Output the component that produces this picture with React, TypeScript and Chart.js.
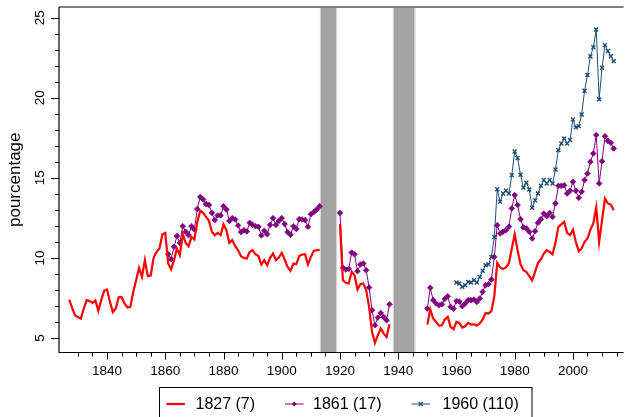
import { useEffect, useRef } from "react";
import { Chart, registerables } from "chart.js";

Chart.register(...registerables);

// ---- data ----
const xRange = [1823.5, 2017.4];
const yRange = [4.09, 25.67];

const redPreStart = 1827;
const redPre = [
  7.4, 6.9, 6.4, 6.31, 6.21, 6.84, 7.36, 7.31, 7.19, 7.34,
  6.69, 7.36, 7.94, 8.02, 7.25, 6.61, 6.84, 7.54, 7.56, 7.15,
  6.9, 6.94, 7.88, 8.61, 9.38, 8.81, 9.86, 8.86, 8.9, 10.02,
  10.38, 10.59, 11.46, 11.56,
  9.65, 9.29, 9.86, 10.59, 10.17, 11.48, 10.94, 10.73, 11.31, 11.15,
  12.25, 12.94, 12.81, 12.56, 12.31, 11.63, 11.42, 11.56, 11.42, 12.09,
  11.73, 10.94, 11.11, 10.73, 10.48, 10.11, 10.0, 9.96, 10.38, 10.48,
  10.21, 10.11, 9.59, 9.86, 9.54, 10.0, 10.27, 9.86, 10.02, 10.31,
  9.9, 9.44, 9.19, 9.65, 9.6, 10.11, 10.21, 10.23, 9.59, 10.06,
  10.44, 10.48, 10.5,
];
const interStart = 1920;
const redInter = [
  12.1, 8.6, 8.44, 8.4, 9.13, 8.92, 8.02, 8.36, 8.4, 7.98,
  6.94, 5.38, 4.69, 5.17, 5.59, 5.27, 5.06, 5.86,
];
const postStart = 1950;
const redPost = [
  5.83, 6.79, 6.21, 6.0, 5.77, 5.79, 6.15, 6.31, 5.69, 5.54,
  6.0, 5.94, 5.65, 5.73, 5.94, 5.83, 5.85, 5.77, 5.9, 6.15,
  6.56, 6.52, 6.67, 7.6, 9.69, 9.4, 9.31, 9.4, 9.65, 10.59,
  11.48, 10.48, 9.6, 9.23, 9.13, 8.86, 8.6, 9.13, 9.69, 9.9,
  10.27, 10.48, 10.38, 10.23, 10.94, 11.94, 12.09, 12.25, 11.56, 11.42,
  11.77, 11.0, 10.42, 10.59, 11.0, 11.21, 11.77, 12.15, 13.15, 11.0,
  12.36, 13.71, 13.4, 13.33, 12.98,
];

const purplePreStart = 1861;
const purplePre = [
  10.23, 9.92, 10.69, 11.36, 10.94, 11.98, 11.63, 11.42, 11.98, 11.77,
  13.06, 13.81, 13.65, 13.36, 13.31, 12.81, 12.36, 12.65, 12.65, 13.23,
  13.02, 12.31, 12.48, 12.4, 12.02, 11.61, 11.73, 11.65, 12.19, 12.06,
  11.98, 11.94, 11.4, 11.69, 11.48, 12.06, 12.48, 12.06, 12.31, 12.48,
  12.11, 11.61, 11.44, 11.98, 11.81, 12.42, 12.4, 12.36, 11.94, 12.73,
  12.86, 13.02, 13.23,
];
const purpleInter = [
  12.81, 9.38, 9.27, 9.31, 10.33, 10.23, 9.17, 9.59, 9.65, 9.23,
  8.15, 6.73, 5.79, 6.27, 6.56, 6.31, 6.1, 7.1,
];
const purplePost = [
  6.83, 8.13, 7.36, 7.15, 7.04, 7.1, 7.44, 7.6, 6.94, 6.83,
  7.31, 7.27, 6.98, 7.15, 7.36, 7.36, 7.4, 7.25, 7.46, 7.88,
  8.29, 8.36, 8.65, 10.06, 12.04, 11.52, 11.63, 11.73, 11.94, 13.09,
  13.92, 13.3, 12.42, 11.9, 11.84, 11.63, 11.21, 11.67, 12.19, 12.42,
  12.77, 12.6, 12.81, 12.56, 13.4, 14.5, 14.5, 14.54, 14.02, 14.19,
  14.75, 14.19, 13.75, 14.13, 14.86, 15.27, 16.0, 16.52, 17.67, 14.65,
  16.04, 17.6, 17.31, 17.19, 16.83,
];

const bluePostStart = 1960;
const bluePost = [
  8.46, 8.4, 8.19, 8.29, 8.5, 8.46, 8.6, 8.46, 8.81, 9.19,
  9.54, 9.6, 10.06, 11.31, 14.29, 13.5, 14.02, 14.19, 14.02, 15.17,
  16.65, 16.24, 15.19, 14.39, 14.69, 14.27, 13.13, 13.6, 14.02, 14.5,
  14.86, 14.65, 14.86, 14.65, 15.52, 16.73, 17.15, 17.46, 17.15, 17.36,
  18.65, 18.15, 18.23, 18.96, 20.44, 21.42, 22.6, 23.15, 24.27, 19.9,
  21.88, 23.29, 22.92, 22.6, 22.29,
];

const warPeriods = [
  [1913.4, 1918.7],
  [1938.5, 1945.6],
];
const seriesLabels = ["1827 (7)", "1861 (17)", "1960 (110)"];
const seriesColors = ["#ff0000", "#800080", "#1f4e79"];
const xTickLabels = [1840, 1860, 1880, 1900, 1920, 1940, 1960, 1980, 2000];
const xMinorTicks = [1830, 2015];
const yTickLabels = [5, 10, 15, 20, 25];
const yMinorRange = [5, 25];
const yTitle = "pourcentage";

type Pt = { x: number; y: number | null };
function seg(start: number, vals: number[]): Pt[] {
  return vals.map((v, i) => ({ x: start + i, y: v }));
}
function joinSegs(...segs: Pt[][]): Pt[] {
  const out: Pt[] = [];
  segs.forEach((s, i) => {
    if (i > 0 && s.length) out.push({ x: s[0].x - 0.5, y: null });
    out.push(...s);
  });
  return out;
}

const FONT = '"Liberation Sans", Arial, Helvetica, sans-serif';

const rAxesPlugin = {
  id: "rAxes",
  beforeDatasetsDraw(chart: any) {
    const { ctx, chartArea, scales } = chart;
    const x = scales.x;
    ctx.save();
    for (const [a, b] of warPeriods) {
      const x0 = x.getPixelForValue(a);
      const x1 = x.getPixelForValue(b);
      ctx.fillStyle = "#a3a3a3";
      ctx.fillRect(x0, chartArea.top, x1 - x0, chartArea.bottom - chartArea.top);
      ctx.strokeStyle = "#cfcfcf";
      ctx.lineWidth = 1;
      ctx.beginPath();
      ctx.moveTo(x0 - 0.5, chartArea.top);
      ctx.lineTo(x0 - 0.5, chartArea.bottom);
      ctx.moveTo(x1 + 0.5, chartArea.top);
      ctx.lineTo(x1 + 0.5, chartArea.bottom);
      ctx.stroke();
    }
    ctx.restore();
  },
  afterDraw(chart: any) {
    const { ctx, chartArea, scales } = chart;
    const { left, right, top, bottom } = chartArea;
    const x = scales.x;
    const y = scales.y;
    ctx.save();
    // top grey line
    ctx.strokeStyle = "#808080";
    ctx.lineWidth = 2;
    ctx.beginPath();
    ctx.moveTo(left, top);
    ctx.lineTo(right, top);
    ctx.stroke();

    // axes lines
    ctx.strokeStyle = "#000";
    ctx.lineWidth = 1.2;
    ctx.beginPath();
    ctx.moveTo(left, top);
    ctx.lineTo(left, bottom);
    ctx.lineTo(right, bottom);
    ctx.stroke();

    // x ticks
    ctx.lineWidth = 1;
    ctx.beginPath();
    for (let yr = xMinorTicks[0]; yr <= xMinorTicks[1]; yr += 5) {
      const px = Math.round(x.getPixelForValue(yr)) + 0.5;
      const len = yr % 20 === 0 ? 7 : 4;
      ctx.moveTo(px, bottom);
      ctx.lineTo(px, bottom + len);
    }
    // y ticks
    for (let v = yMinorRange[0]; v <= yMinorRange[1]; v += 1) {
      const py = Math.round(y.getPixelForValue(v)) + 0.5;
      const len = v % 5 === 0 ? 8 : 4;
      ctx.moveTo(left, py);
      ctx.lineTo(left - len, py);
    }
    ctx.stroke();

    // x labels
    ctx.fillStyle = "#000";
    ctx.font = `13.5px ${FONT}`;
    ctx.textAlign = "center";
    ctx.textBaseline = "middle";
    for (const yr of xTickLabels) {
      ctx.fillText(String(yr), x.getPixelForValue(yr), 371);
    }
    // y labels (rotated)
    for (const v of yTickLabels) {
      ctx.save();
      ctx.translate(40, y.getPixelForValue(v));
      ctx.rotate(-Math.PI / 2);
      ctx.fillText(String(v), 0, 0);
      ctx.restore();
    }
    // y title
    ctx.save();
    ctx.font = `17px ${FONT}`;
    ctx.translate(15, (top + bottom) / 2);
    ctx.rotate(-Math.PI / 2);
    ctx.fillText(yTitle, 0, 0);
    ctx.restore();

    // legend
    ctx.strokeStyle = "#000";
    ctx.lineWidth = 1;
    ctx.strokeRect(159.5, 387.5, 372.5, 45);
    const items = [
      { lx: 166.5, tx: 195.5 },
      { lx: 285, tx: 313 },
      { lx: 411.5, tx: 442.5 },
    ];
    const ly = 404;
    ctx.font = `16px ${FONT}`;
    ctx.textAlign = "left";
    items.forEach((it, i) => {
      ctx.strokeStyle = seriesColors[i];
      ctx.lineWidth = i === 0 ? 2.2 : 1;
      ctx.beginPath();
      ctx.moveTo(it.lx, ly);
      ctx.lineTo(it.lx + 18.5, ly);
      ctx.stroke();
      const cx = it.lx + 9.25;
      if (i === 1) {
        ctx.fillStyle = seriesColors[i];
        ctx.beginPath();
        ctx.moveTo(cx, ly - 2.5);
        ctx.lineTo(cx + 2.5, ly);
        ctx.lineTo(cx, ly + 2.5);
        ctx.lineTo(cx - 2.5, ly);
        ctx.closePath();
        ctx.fill();
      } else if (i === 2) {
        ctx.lineWidth = 1.3;
        ctx.beginPath();
        ctx.moveTo(cx - 2, ly - 2);
        ctx.lineTo(cx + 2, ly + 2);
        ctx.moveTo(cx + 2, ly - 2);
        ctx.lineTo(cx - 2, ly + 2);
        ctx.stroke();
      }
      ctx.fillStyle = "#000";
      ctx.fillText(seriesLabels[i], it.tx, ly + 1);
    });
    ctx.restore();
  },
};

export default function App() {
  const ref = useRef<HTMLCanvasElement | null>(null);
  useEffect(() => {
    if (!ref.current) return;
    const chart = new Chart(ref.current, {
      type: "line",
      data: {
        datasets: [
          {
            label: seriesLabels[0],
            data: joinSegs(seg(redPreStart, redPre), seg(interStart, redInter), seg(postStart, redPost)) as any,
            borderColor: seriesColors[0],
            borderWidth: 2.2,
            pointRadius: 0,
            tension: 0,
            spanGaps: false,
          },
          {
            label: seriesLabels[1],
            data: joinSegs(seg(purplePreStart, purplePre), seg(interStart, purpleInter), seg(postStart, purplePost)) as any,
            borderColor: seriesColors[1],
            borderWidth: 1,
            pointStyle: "rectRot",
            pointRadius: 2.8,
            pointBackgroundColor: seriesColors[1],
            pointBorderColor: seriesColors[1],
            pointBorderWidth: 0.8,
            tension: 0,
            spanGaps: false,
          },
          {
            label: seriesLabels[2],
            data: seg(bluePostStart, bluePost) as any,
            borderColor: seriesColors[2],
            borderWidth: 1,
            pointStyle: "crossRot",
            pointRadius: 2.8,
            pointBorderColor: seriesColors[2],
            pointBorderWidth: 1.4,
            tension: 0,
            spanGaps: false,
          },
        ],
      },
      options: {
        responsive: false,
        animation: false,
        events: [],
        layout: { padding: { left: 59, top: 7, right: 0, bottom: 64.5 } },
        scales: {
          x: { type: "linear", min: xRange[0], max: xRange[1], display: false },
          y: { type: "linear", min: yRange[0], max: yRange[1], display: false },
        },
        plugins: { legend: { display: false }, tooltip: { enabled: false } },
      },
      plugins: [rAxesPlugin],
    });
    return () => chart.destroy();
  }, []);
  return (
    <div style={{ position: "fixed", left: 0, top: 0, width: 629, height: 417, background: "#fff" }}>
      <canvas ref={ref} width={629} height={417} style={{ display: "block" }} />
    </div>
  );
}
